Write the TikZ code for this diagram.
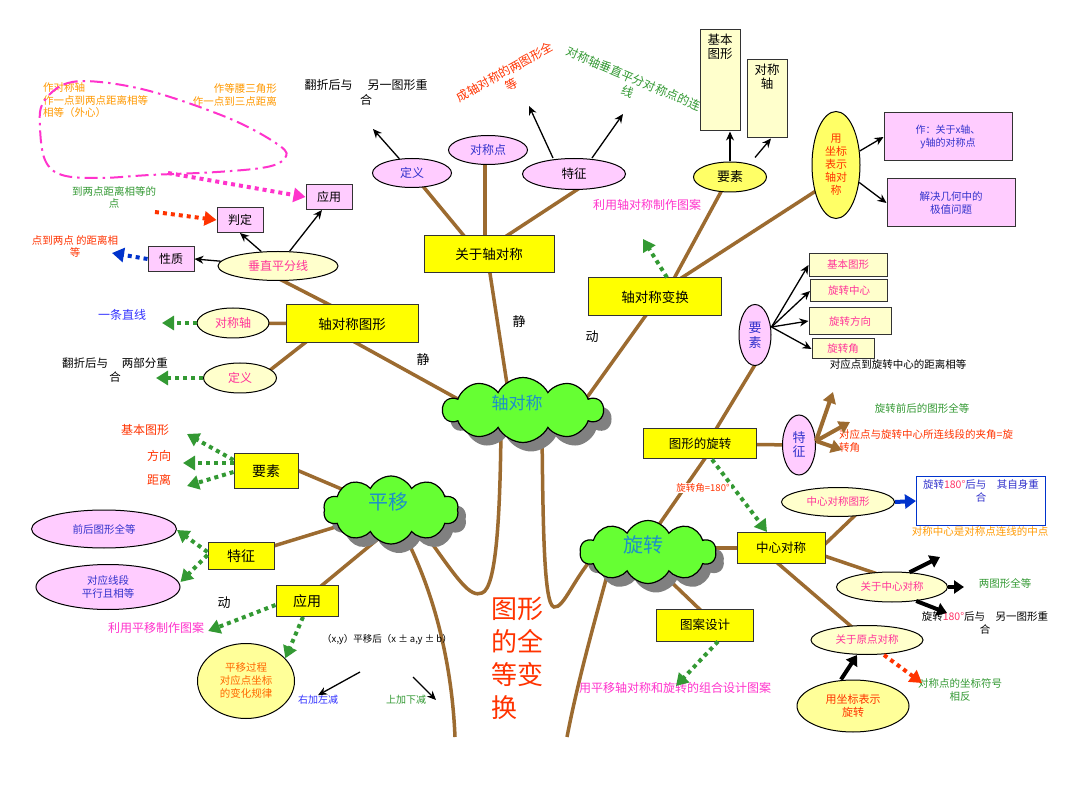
\documentclass[tikz,border=0pt]{standalone}
\usepackage{fontspec}
\setmainfont{Noto Sans CJK SC}
\usetikzlibrary{shapes.symbols,shapes.geometric,arrows.meta,shadows}
\pgfdeclarelayer{bg}
\pgfdeclarelayer{paper}
\pgfsetlayers{paper,bg,main}
\newcommand\fz[2]{\fontsize{#1}{#2}\selectfont}
\definecolor{cbrn}{HTML}{9C6B30}
\definecolor{cyel}{HTML}{FFFF00}
\definecolor{clyel}{HTML}{FFFFCC}
\definecolor{cyel2}{HTML}{FFFF66}
\definecolor{cyel3}{HTML}{FFFF99}
\definecolor{cpk}{HTML}{FFCCFF}
\definecolor{cgrn}{HTML}{66FF33}
\definecolor{cblu}{HTML}{1E90C8}
\definecolor{cdg}{HTML}{339933}
\definecolor{cpkt}{HTML}{FF3399}
\definecolor{corg}{HTML}{FF9900}
\definecolor{corg2}{HTML}{FF6600}
\definecolor{crd}{HTML}{FF3300}
\definecolor{cr2}{HTML}{FF3366}
\definecolor{cbl}{HTML}{3333FF}
\definecolor{cbl2}{HTML}{0033CC}
\definecolor{cpb}{HTML}{3333CC}
\definecolor{cmg}{HTML}{FF33CC}
\tikzset{
  box/.style={rectangle, draw=black!80, line width=1pt, inner sep=1pt, align=center},
  ybox/.style={box, fill=cyel, font=\fz{13.5}{16}},
  lbox/.style={box, fill=clyel},
  pbox/.style={box, fill=cpk, font=\fz{12}{14}},
  ell/.style={ellipse, draw=black, line width=1pt, inner sep=0pt, align=center},
  pell/.style={ell, fill=cpk},
  yell/.style={ell, fill=clyel},
  lbl/.style={inner sep=0pt, align=center},
  brl/.style={draw=cbrn, line width=3.5pt},
  blk/.style={draw=black, line width=1.3pt, -{Stealth[length=9pt,width=8pt]}},
  thk/.style={draw=black, line width=4pt, -{Triangle[length=10pt,width=13pt]}},
  bra/.style={draw=cbrn, line width=4pt, -{Triangle[length=11pt,width=13pt]}},
  dta/.style={line width=4pt, dash pattern=on 4pt off 4pt, -{Triangle[length=12pt,width=14pt]}},
  cl/.style={cloud, cloud puffs=10, cloud puff arc=125, aspect=2.3, draw=black, line width=1.2pt, fill=cgrn, inner sep=0pt,
    drop shadow={shadow xshift=8pt, shadow yshift=-9pt, fill=black!50, opacity=1}},
  ctext/.style={inner sep=0pt, text=cblu},
}
\begin{document}
\begin{tikzpicture}[x=1pt,y=-1pt]
\begin{pgfonlayer}{paper}
\fill[white] (0,0) rectangle (1080,810);
\end{pgfonlayer}
\useasboundingbox (0,0) rectangle (1080,810);

% clouds
\node[cl, minimum width=160pt, minimum height=65pt] (czd) at (523,410) {};
\node[cl, minimum width=135pt, minimum height=68pt] (pyc) at (391,510) {};
\node[cl, minimum width=136pt, minimum height=63pt] (rtc) at (648,552) {};
\node[ctext, font=\fz{17}{17}] (czdt) at (517,403) {轴对称};
\node[ctext, font=\fz{20}{20}] (pyct) at (388,502) {平移};
\node[ctext, font=\fz{20}{20}] (rtct) at (643,545) {旋转};

% main yellow boxes
\node[ybox, minimum width=130pt, minimum height=37pt] (gzd) at (489,254) {关于轴对称};
\node[ybox, minimum width=133pt, minimum height=38pt] (zdbh) at (655,297) {轴对称变换};
\node[ybox, minimum width=132pt, minimum height=38pt] (zdtx) at (352,324) {轴对称图形};
\node[ybox, font=\fz{14}{16}, minimum width=64pt, minimum height=34pt] (pyys) at (266,471) {要素};
\node[ybox, font=\fz{14}{16}, minimum width=66pt, minimum height=27pt] (pytz) at (241,556) {特征};
\node[ybox, font=\fz{14}{16}, minimum width=62pt, minimum height=31pt] (pyyy) at (307,601) {应用};
\node[ybox, font=\fz{12.5}{15}, minimum width=113pt, minimum height=30pt] (txxz) at (700,444) {图形的旋转};
\node[ybox, font=\fz{12.5}{15}, minimum width=88pt, minimum height=31pt] (zxdc) at (781,548) {中心对称};
\node[ybox, font=\fz{12.5}{15}, minimum width=97pt, minimum height=32pt] (tasj) at (705,625) {图案设计};

% rotated texts (behind top boxes)
\node[lbl, text=crd, font=\fz{12}{14}, rotate=29] (t8) at (508,78) {成轴对称的两图形全\\等};
\node[lbl, text=cdg, font=\fz{12}{14}, rotate=-23] (t9) at (631,85) {对称轴垂直平分对称点的连\\线};

% top light boxes
\node[lbox, minimum width=40pt, minimum height=101pt] (jbtx) at (720,80.5) {};
\node[lbl, font=\fz{12.5}{13.5}] (jbtxt) at (720,47) {基本\\图形};
\node[lbox, minimum width=40pt, minimum height=78pt] (dczb) at (767,99) {};
\node[lbl, font=\fz{12.5}{13.5}] (dczbt) at (767,77) {对称\\轴};

% rotation element boxes
\node[lbox, text=cpkt, font=\fz{10.5}{12}, minimum width=78pt, minimum height=23pt] (r1) at (848,265) {基本图形};
\node[lbox, text=cpkt, font=\fz{10.5}{12}, minimum width=77pt, minimum height=22pt] (r2) at (849,291) {旋转中心};
\node[lbox, text=cpkt, font=\fz{10.5}{12}, minimum width=82pt, minimum height=27pt] (r3) at (850,321) {旋转方向};
\node[lbox, text=cpkt, font=\fz{10.5}{12}, minimum width=62pt, minimum height=20pt] (r4) at (843,349) {旋转角};

% pink boxes
\node[pbox, minimum width=46pt, minimum height=25pt] (yy1) at (329,197) {应用};
\node[pbox, minimum width=46pt, minimum height=25pt] (pd) at (240,220) {判定};
\node[pbox, minimum width=46pt, minimum height=25pt] (xz) at (171,259) {性质};
\node[pbox, text=cpb, font=\fz{10}{13}, minimum width=128pt, minimum height=48pt] (zgy) at (948,137) {作：关于x轴、\\y轴的对称点};
\node[pbox, text=cpb, font=\fz{10.5}{13}, minimum width=128pt, minimum height=48pt] (jjjh) at (951,203) {解决几何中的\\极值问题};

% pink ellipses
\node[pell, text=cpb, font=\fz{12}{14}, minimum width=79pt, minimum height=29pt] (dy1) at (412,173) {定义};
\node[pell, text=cpb, font=\fz{12}{14}, minimum width=79pt, minimum height=29pt] (dcd) at (488,150) {对称点};
\node[pell, font=\fz{12.5}{14}, minimum width=103pt, minimum height=31pt] (tz1) at (574,174) {特征};
\node[pell, text=cpb, font=\fz{13}{15}, minimum width=32pt, minimum height=61pt] (rys) at (755,335) {要\\素};
\node[pell, text=cpb, font=\fz{13}{14}, minimum width=33pt, minimum height=60pt] (rtz) at (799,445) {特\\征};
\node[pell, text=cpb, font=\fz{10.5}{12}, minimum width=145pt, minimum height=38pt] (qh) at (104,529) {前后图形全等};
\node[pell, text=cpb, font=\fz{10.5}{12.5}, minimum width=144pt, minimum height=45pt] (dyxd) at (108,587) {对应线段\\平行且相等};

% light yellow ellipses
\node[yell, text=cpkt, font=\fz{12}{14}, minimum width=120pt, minimum height=29pt] (czpf) at (278,266) {垂直平分线};
\node[yell, text=cpkt, font=\fz{12}{14}, minimum width=72pt, minimum height=30pt] (dcz) at (233,323) {对称轴};
\node[yell, text=cpkt, font=\fz{12}{14}, minimum width=73pt, minimum height=30pt] (dy2) at (240,378) {定义};
\node[ell, fill=cyel2, font=\fz{13}{15}, minimum width=73pt, minimum height=30pt] (ys1) at (730,177) {要素};
\node[ell, fill=cyel2, text=crd, font=\fz{11}{13}, minimum width=48pt, minimum height=107pt] (yzb) at (836,165) {用\\坐标\\表示\\轴对\\称};
\node[yell, text=cpkt, font=\fz{10.5}{12}, minimum width=113pt, minimum height=29pt] (zxdctx) at (838,502) {中心对称图形};
\node[yell, text=cpkt, font=\fz{10.5}{12}, minimum width=111pt, minimum height=30pt] (gyzx) at (892,587) {关于中心对称};
\node[yell, text=cpkt, font=\fz{10.5}{12}, minimum width=112pt, minimum height=29pt] (gyyd) at (867,640) {关于原点对称};
\node[ell, fill=cyel3, text=crd, font=\fz{11}{13}, minimum width=112pt, minimum height=52pt] (yzbxz) at (853,706) {用坐标表示\\旋转};
\node[ell, fill=cyel3, text=corg2, font=\fz{10.5}{13}, minimum width=97pt, minimum height=75pt] (pygc) at (246,681) {平移过程\\对应点坐标\\的变化规律};

% white box
\node[rectangle, draw=cbl2, line width=1pt, fill=white, minimum width=129pt, minimum height=49pt] (zxbox) at (981,501) {};
\node[lbl, text=cpb, font=\fz{10.5}{13}] (zxboxt) at (981,491) {旋转{\color{cr2}180°}后与\quad 其自身重\\合};

% free texts
\node[lbl, text=corg, font=\fz{10.5}{12.5}, align=left, anchor=west] (t1) at (43,100.5) {作对称轴\\作一点到两点距离相等\\相等（外心）};
\node[lbl, text=corg, font=\fz{10.5}{13}, align=right, anchor=east] (t2) at (277,95) {作等腰三角形\\作一点到三点距离};
\node[lbl, text=cdg, font=\fz{10.5}{11.5}] (t3) at (114,197.5) {到两点距离相等的\\点};
\node[lbl, text=crd, font=\fz{10.5}{12}] (t4) at (75,246) {点到两点\ 的距离相\\等};
\node[lbl, text=cbl, font=\fz{12}{14}] (t5) at (122,315) {一条直线};
\node[lbl, font=\fz{11.5}{14}] (t6) at (115,370) {翻折后与\hspace{1.2em}两部分重\\合};
\node[lbl, font=\fz{12}{15}] (t7) at (366,92) {翻折后与\hspace{1.25em}另一图形重\\合};
\node[lbl, text=cmg, font=\fz{12}{14}] (t10) at (647,205) {利用轴对称制作图案};
\node[lbl, font=\fz{13}{13}] (j1) at (519,322) {静};
\node[lbl, font=\fz{13}{13}] (j2) at (423,360) {静};
\node[lbl, font=\fz{13}{13}] (d1) at (592,337) {动};
\node[lbl, font=\fz{13}{13}] (d2) at (224,603) {动};
\node[lbl, font=\fz{10.5}{12}] (t11) at (898,365) {对应点到旋转中心的距离相等};
\node[lbl, text=cdg, font=\fz{10.5}{12}] (t12) at (922,408) {旋转前后的图形全等};
\node[lbl, text=crd, font=\fz{10.5}{13}, align=left, anchor=west] (t13) at (839,441.5) {对应点与旋转中心所连线段的夹角=旋\\转角};
\node[lbl, text=corg, font=\fz{10.5}{12}] (t15) at (980,531) {对称中心是对称点连线的中点};
\node[lbl, text=cdg, font=\fz{10.5}{12}] (t16) at (1005,583) {两图形全等};
\node[lbl, font=\fz{10.5}{13}] (t17) at (985,622.5) {旋转{\color{cr2}180°}后与\quad 另一图形重\\合};
\node[lbl, text=cdg, font=\fz{10.5}{13}] (t18) at (960,690.5) {对称点的坐标符号\\相反};
\node[lbl, text=cmg, font=\fz{12}{14}] (t19) at (675,688) {用平移轴对称和旋转的组合设计图案};
\node[lbl, font=\fz{9.5}{11}] (t20) at (387,640) {（x,y）平移后（x ± a,y ± b）};
\node[lbl, text=cbl, font=\fz{10}{12}] (t21) at (318,700) {右加左减};
\node[lbl, text=cdg, font=\fz{10}{12}] (t22) at (406,700) {上加下减};
\node[lbl, text=cmg, font=\fz{12}{14}] (t23) at (156,628) {利用平移制作图案};
\node[lbl, text=crd, font=\fz{12}{14}] (t24) at (145,430) {基本图形};
\node[lbl, text=crd, font=\fz{12}{14}] (t25) at (159,456) {方向};
\node[lbl, text=crd, font=\fz{12}{14}] (t26) at (159,480) {距离};
\node[lbl, text=crd, font=\fz{26}{33}, align=left, anchor=west] (title) at (491,658) {图形\\的全\\等变\\换};

% free end coordinates
\coordinate (e1) at (373,129);
\coordinate (e2) at (529,106);
\coordinate (e3) at (623,114);
\coordinate (bl) at (455,737);
\coordinate (br) at (567,737);
\coordinate (b1) at (833,392);
\coordinate (b2) at (850,422);
\coordinate (b3) at (842,450);
\coordinate (e5) at (940,557);
\coordinate (e6) at (964,587);
\coordinate (e7) at (947,613);
\coordinate (e8) at (922,683);
\coordinate (e9) at (112,253);
\coordinate (e10) at (162,323);
\coordinate (e11) at (156,378);
\coordinate (e12) at (187,434);
\coordinate (e13) at (183,463);
\coordinate (e14) at (187,486);
\coordinate (e16) at (643,239);
\coordinate (e17) at (676,686);
\coordinate (s2) at (155,212);
\coordinate (lp) at (168,173);
\coordinate (a1) at (360,672);
\coordinate (a2) at (413,677);
\coordinate (e18) at (436,700);

\begin{pgfonlayer}{bg}
% brown branches
\draw[brl] ([xshift=-2pt]gzd.center) -- ([xshift=-12pt]czd.center);
\draw[brl] ([xshift=-30pt]zdtx.center) -- ([yshift=-25pt]czd.center);
\draw[brl] ([xshift=4pt]zdbh.center) -- ([xshift=55pt]czd.center);
\draw[brl] ([xshift=-10pt]gzd.center) -- (dy1.center);
\draw[brl] ([xshift=-4pt]gzd.center) -- ([xshift=-3pt]dcd.center);
\draw[brl] ([xshift=-10pt]gzd.center) -- ([xshift=27pt]tz1.center);
\draw[brl] ([xshift=15pt]zdtx.center) -- ([xshift=-24pt]czpf.center);
\draw[brl] (zdtx.center) -- (dcz.center);
\draw[brl] ([xshift=-23pt]zdtx.center) -- ([xshift=20pt]dy2.center);
\draw[brl] ([xshift=9pt]zdbh.center) -- ([xshift=-1pt]ys1.center);
\draw[brl] ([xshift=-3pt]zdbh.center) -- ([xshift=20pt]yzb.center);
\draw[brl] ([xshift=-8pt]rtc.center) -- ([xshift=15pt]txxz.center);
\draw[brl] ([xshift=7pt]txxz.center) -- ([xshift=9pt,yshift=-15pt]rys.center);
\draw[brl] (txxz.center) -- (rtz.center);
\draw[brl] ([yshift=4pt]rtc.center) -- (zxdc.center);
\draw[brl] ([xshift=40pt]zxdc.center) -- ([xshift=31pt]zxdctx.center);
\draw[brl] ([xshift=20pt]zxdc.center) -- ([xshift=24pt]gyzx.center);
\draw[brl] ([xshift=-21pt]zxdc.center) -- (gyyd.center);
\draw[brl] ([xshift=-8pt]rtc.center) -- ([xshift=11pt]tasj.center);
\draw[brl] (pyc.center) -- ([yshift=14pt]pyys.center);
\draw[brl] (pyc.center) -- (pytz.center);
\draw[brl] ([xshift=22pt]pyc.center) -- ([xshift=-4pt]pyyy.center);
% trunk curves
\draw[brl] ([xshift=15pt,yshift=-28pt]pyc.center) .. controls (435,595) and (452,665) .. (bl);
\draw[brl] ([xshift=35pt,yshift=-25pt]pyc.center) .. controls (458,580) and (470,598) .. (482,593) .. controls (496,588) and (500,520) .. ([xshift=-22pt,yshift=-20pt]czd.center);
\draw[brl] ([xshift=19pt,yshift=-20pt]czd.center) .. controls (543,530) and (544,605) .. (554,607) .. controls (564,609) and (575,575) .. ([xshift=-50pt]rtc.center);
\draw[brl] ([xshift=-40pt,yshift=-20pt]rtc.center) .. controls (595,620) and (578,680) .. (br);
\end{pgfonlayer}

% pink dash-dot loop
\draw[cmg, line width=2pt, dash pattern=on 13pt off 5pt on 2.5pt off 5pt]
  plot[smooth cycle, tension=0.6] coordinates {(43,103) (65,84) (100,82) (157,93) (233,120) (280,146) (285,158) (267,167) (217,172) (150,175) (100,178) (62,175) (45,160) (40,127)};

% black thin arrows
\draw[blk] (dy1) -- (e1);
\draw[blk] ([xshift=-21pt]tz1.north) -- (e2);
\draw[blk] ([xshift=18pt]tz1.north) -- (e3);
\draw[blk] (ys1.north) -- (ys1.north |- jbtx.south);
\draw[blk] ([xshift=25pt,yshift=4pt]ys1.north) -- ([xshift=4pt]dczb.south);
\draw[blk] (yzb) -- (zgy.west);
\draw[blk] (yzb) -- (jjjh.west);
\draw[blk] (czpf) -- (xz.east);
\draw[blk] (czpf) -- (pd.south);
\draw[blk] (czpf) -- ([xshift=-7pt]yy1.south);
\draw[blk] ([yshift=8pt]rys.east) -- (r1.west);
\draw[blk] ([yshift=8pt]rys.east) -- (r2.west);
\draw[blk] ([yshift=8pt]rys.east) -- (r3.west);
\draw[blk] ([yshift=8pt]rys.east) -- (r4.west);
\draw[blk] (a1) -- (t21.north);
\draw[blk] (a2) -- (e18);

% thick arrows
\draw[thk] (gyzx.40) -- (e5);
\draw[thk] (gyzx.east) -- (e6);
\draw[thk] (gyzx.-30) -- (e7);
\draw[thk] ([xshift=-12pt]yzbxz.north) -- ([xshift=-10pt]gyyd.south);
\draw[bra] ([yshift=4pt]rtz.east) -- (b1);
\draw[bra] ([yshift=4pt]rtz.east) -- (b2);
\draw[bra] ([yshift=4pt]rtz.east) -- (b3);
\draw[cbl2, line width=4pt, -{Triangle[length=11pt,width=14pt]}] (zxdctx.east) -- (zxbox.west);

% dotted arrows
\draw[dta, cmg] (lp) -- (yy1.west);
\draw[dta, crd] (s2) -- (pd.west);
\draw[dta, cbl2] (xz.west) -- (e9);
\draw[dta, cdg] (dcz.west) -- (e10);
\draw[dta, cdg] (dy2.west) -- (e11);
\draw[dta, cdg] ([yshift=11pt]pyys.west) -- (e12);
\draw[dta, cdg] ([yshift=8pt]pyys.west) -- (e13);
\draw[dta, cdg] ([yshift=-1pt]pyys.west) -- (e14);
\draw[dta, cdg] ([yshift=4pt]pytz.west) -- ([yshift=-1pt]qh.east);
\draw[dta, cdg] ([yshift=1pt]pytz.west) -- ([yshift=5pt]dyxd.east);
\draw[dta, cdg] ([yshift=-4pt]pyyy.west) -- ([xshift=4pt,yshift=-3pt]t23.east);
\draw[dta, cdg] ([xshift=-4pt]pyyy.south) -- (pygc.30);
\draw[dta, cdg] ([xshift=12pt]zdbh.north) -- (e16);
\draw[dta, cdg] ([xshift=12pt]txxz.south) -- ([xshift=-14pt]zxdc.north);
\draw[dta, cdg] ([xshift=13pt]tasj.south) -- (e17);
\draw[dta, crd] ([xshift=17pt]gyyd.south) -- (e8);

\node[lbl, text=crd, font=\fz{9.5}{11}, fill=white, inner sep=1pt] (t14) at (703,488) {旋转角=180°};
\end{tikzpicture}
\end{document}
